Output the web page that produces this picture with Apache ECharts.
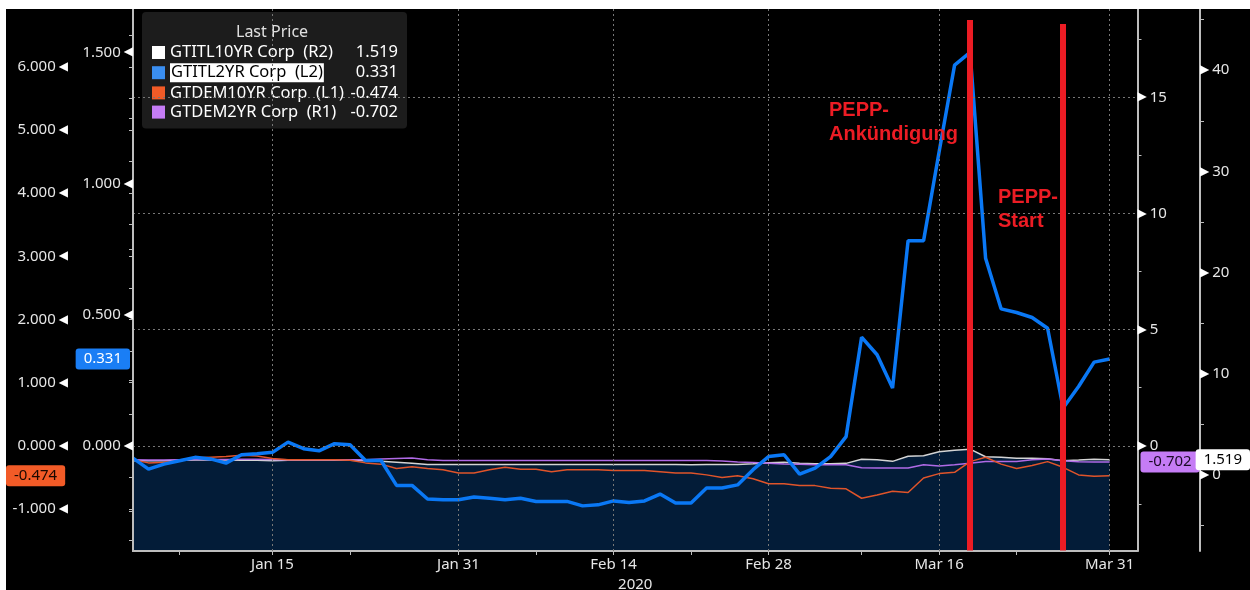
<!DOCTYPE html>
<html>
<head>
<meta charset="utf-8">
<script src="https://cdn.jsdelivr.net/npm/echarts@6.0.0/dist/echarts.min.js"></script>
<style>
html, body { margin: 0; padding: 0; background: #fff; }
#chart { position: absolute; left: 6px; top: 9px; width: 1244px; height: 581px; background: #000; }
</style>
</head>
<body>
<div id="chart"></div>
<script>
// business days Jan 2 - Mar 31 2020
var dates = ['Jan 2','Jan 3','Jan 6','Jan 7','Jan 8','Jan 9','Jan 10','Jan 13','Jan 14','Jan 15',
  'Jan 16','Jan 17','Jan 20','Jan 21','Jan 22','Jan 23','Jan 24','Jan 27','Jan 28','Jan 29',
  'Jan 30','Jan 31','Feb 3','Feb 4','Feb 5','Feb 6','Feb 7','Feb 10','Feb 11','Feb 12',
  'Feb 13','Feb 14','Feb 17','Feb 18','Feb 19','Feb 20','Feb 21','Feb 24','Feb 25','Feb 26',
  'Feb 27','Feb 28','Mar 2','Mar 3','Mar 4','Mar 5','Mar 6','Mar 9','Mar 10','Mar 11',
  'Mar 12','Mar 13','Mar 16','Mar 17','Mar 18','Mar 19','Mar 20','Mar 23','Mar 24','Mar 25',
  'Mar 26','Mar 27','Mar 30','Mar 31'];

// GTITL10YR (R2)
var itl10 = [1.42,1.40,1.42,1.45,1.48,1.50,1.48,1.45,1.45,1.42,
  1.45,1.45,1.45,1.45,1.45,1.42,1.35,1.25,1.15,1.05,
  1.05,1.03,1.03,1.04,1.04,1.05,1.04,1.03,1.03,1.04,
  1.04,1.04,1.03,1.03,1.04,1.03,1.02,1.04,1.05,1.04,
  1.10,1.20,1.25,1.15,1.12,1.12,1.15,1.55,1.50,1.35,
  1.85,1.90,2.30,2.45,2.55,1.80,1.75,1.65,1.65,1.60,
  1.42,1.48,1.55,1.519];
// GTITL2YR (L2)
var itl2 = [-0.047,-0.089,-0.070,-0.057,-0.044,-0.050,-0.066,-0.034,-0.030,-0.025,
  0.014,-0.011,-0.019,0.008,0.004,-0.056,-0.056,-0.151,-0.151,-0.203,
  -0.206,-0.206,-0.195,-0.200,-0.206,-0.200,-0.212,-0.212,-0.212,-0.229,
  -0.225,-0.210,-0.216,-0.210,-0.184,-0.218,-0.218,-0.161,-0.161,-0.149,
  -0.091,-0.041,-0.034,-0.108,-0.085,-0.041,0.035,0.414,0.347,0.220,
  0.782,0.782,1.120,1.451,1.500,0.715,0.522,0.508,0.489,0.448,
  0.144,0.226,0.319,0.331];
// GTDEM10YR (L1)
var dem10 = [-0.22,-0.27,-0.26,-0.24,-0.19,-0.18,-0.17,-0.15,-0.16,-0.20,
  -0.22,-0.22,-0.22,-0.22,-0.23,-0.27,-0.29,-0.36,-0.33,-0.36,
  -0.38,-0.43,-0.43,-0.38,-0.34,-0.37,-0.37,-0.41,-0.38,-0.38,
  -0.38,-0.39,-0.39,-0.39,-0.41,-0.43,-0.43,-0.46,-0.50,-0.475,
  -0.52,-0.60,-0.60,-0.63,-0.63,-0.67,-0.68,-0.83,-0.78,-0.72,
  -0.74,-0.51,-0.44,-0.42,-0.25,-0.18,-0.29,-0.36,-0.31,-0.25,
  -0.34,-0.46,-0.48,-0.474];
// GTDEM2YR (R1)
var dem2 = [-0.60,-0.61,-0.61,-0.60,-0.59,-0.59,-0.59,-0.58,-0.58,-0.59,
  -0.60,-0.60,-0.60,-0.60,-0.60,-0.60,-0.57,-0.55,-0.53,-0.60,
  -0.63,-0.63,-0.63,-0.63,-0.63,-0.63,-0.63,-0.63,-0.63,-0.63,
  -0.63,-0.63,-0.63,-0.63,-0.63,-0.63,-0.63,-0.63,-0.66,-0.70,
  -0.72,-0.75,-0.78,-0.80,-0.82,-0.82,-0.82,-0.95,-0.96,-0.96,
  -0.96,-0.82,-0.87,-0.82,-0.75,-0.68,-0.68,-0.68,-0.60,-0.57,
  -0.65,-0.69,-0.70,-0.702];

var labelDays = ['Jan 15','Jan 31','Feb 14','Feb 28','Mar 16','Mar 31'];
var midDays = ['Jan 7','Jan 22','Feb 7','Feb 21','Mar 9','Mar 23'];
var eventDays = ['Mar 18','Mar 26'];
var gridLevels = [0, 5, 10, 15];   // R1 values for dotted grid

var l1Labels = [-1,0,1,2,3,4,5,6];
var l1Ticks = [-1.5,-1,-0.5,0,0.5,1,1.5,2,2.5,3,3.5,4,4.5,5,5.5,6,6.5];
var l2Labels = [0,0.5,1,1.5];
var l2Ticks = [-0.25,0,0.25,0.5,0.75,1,1.25,1.5];
var r1Labels = [0,5,10,15];
var r1Ticks = [-2.5,0,2.5,5,7.5,10,12.5,15,17.5];
var r2Labels = [0,10,20,30,40];
var r2Ticks = [-5,0,5,10,15,20,25,30,35,40,45];

var FONT = 'Noto Sans';
var AX = '#bdbdbd', TXT = '#e6e6e6';
var last = function(a){ return a[a.length - 1]; };
var idx = function(d){ return dates.indexOf(d); };
var pairs = function(a){ return a.map(function (v, i) { return [i, v]; }); };
var labelIdx = labelDays.map(idx);
var tickIdx = labelIdx.concat(midDays.map(idx));

var meta = {
  'GTITL10YR Corp': { tag: '(R2)', data: itl10 },
  'GTITL2YR Corp':  { tag: '(L2)', data: itl2, hl: true },
  'GTDEM10YR Corp': { tag: '(L1)', data: dem10 },
  'GTDEM2YR Corp':  { tag: '(R1)', data: dem2 }
};
var ctx = document.createElement('canvas').getContext('2d');
ctx.font = '16.5px "' + FONT + '"';
var hlW = ctx.measureText('GTITL2YR Corp  (L2)').width + 2;

function yAxis(pos, offset, min, max, labels, ticks, fmt, tag) {
  var left = pos === 'left';
  return {
    type: 'value', position: pos, offset: offset, min: min, max: max, z: 5,
    axisLine: { show: true, lineStyle: { color: AX, width: 2 } },
    axisTick: { show: true, customValues: ticks, length: 4, lineStyle: { color: AX } },
    splitLine: { show: false },
    axisLabel: {
      customValues: labels, margin: 0,
      formatter: function (v) {
        return left ? '{v|' + fmt(v) + '}{t|◀}' : '{t|▶}{v|' + fmt(v) + '}';
      },
      rich: {
        v: { color: TXT, fontSize: 15, fontFamily: FONT, padding: left ? [0, 3, 0, 0] : [0, 0, 0, 3] },
        t: { color: '#fff', fontSize: 12, fontFamily: 'DejaVu Sans' }
      }
    },
    axisPointer: {
      show: true, type: 'none', status: 'show', value: tag.value, snap: false, triggerTooltip: false,
      label: {
        show: true, margin: 3, padding: [3, 8, 3, 8], fontSize: 15, fontFamily: FONT,
        backgroundColor: tag.bg, color: tag.fg,
        formatter: function () { return tag.value.toFixed(3); }
      }
    }
  };
}

var chart = echarts.init(document.getElementById('chart'));
var option = {
  animation: false,
  backgroundColor: '#000',
  title: {
    text: 'Last Price', left: 230, top: 13, padding: 0,
    textStyle: { color: '#e0e0e0', fontSize: 16, fontWeight: 'normal', fontFamily: FONT, lineHeight: 20 }
  },
  legend: {
    orient: 'vertical', left: 136, top: 3, selectedMode: false,
    backgroundColor: '#1c1c1c', borderRadius: 4, padding: [32, 9, 8, 10],
    itemWidth: 13, itemHeight: 13, itemGap: 2.2, icon: 'rect',
    data: ['GTITL10YR Corp', 'GTITL2YR Corp', 'GTDEM10YR Corp', 'GTDEM2YR Corp'],
    formatter: function (name) {
      var m = meta[name];
      var txt = name + '  ' + m.tag;
      var val = last(m.data).toFixed(3);
      if (m.hl) return '{hl|' + txt + '}{pad|}{v|' + val + '}';
      return '{n|' + txt + '}{v|' + val + '}';
    },
    textStyle: {
      color: '#fff', fontSize: 16.5, fontFamily: FONT,
      rich: {
        n: { width: 170, color: '#fff', fontSize: 16.5, fontFamily: FONT },
        hl: { color: '#000', backgroundColor: '#fff', padding: [1, 1, 1, 1], fontSize: 16.5, fontFamily: FONT },
        pad: { width: 170 - hlW },
        v: { width: 58, align: 'right', color: '#fff', fontSize: 16.5, fontFamily: FONT }
      }
    }
  },
  grid: { left: 127, right: 112.5, top: 0, bottom: 39, containLabel: false, outerBoundsMode: 'none' },
  xAxis: {
    type: 'value', min: 0, max: 64.8, z: 2,
    name: '2020', nameLocation: 'middle', nameGap: 22,
    nameTextStyle: { color: TXT, fontSize: 15, fontFamily: FONT },
    axisLine: { onZero: false, lineStyle: { color: AX, width: 2 } },
    axisTick: { show: true, customValues: tickIdx, length: 4, lineStyle: { color: AX } },
    axisLabel: {
      customValues: labelIdx, color: TXT, fontSize: 15, fontFamily: FONT, margin: 6,
      formatter: function (v) { return dates[v]; }
    },
    splitLine: { show: false }
  },
  yAxis: [
    yAxis('left', 65, -1.665, 6.915, l1Labels, l1Ticks, function (v) { return v.toFixed(3); },
      { value: last(dem10), bg: '#f25b27', fg: '#1a0800' }),
    yAxis('left', 0, -0.401, 1.665, l2Labels, l2Ticks, function (v) { return v.toFixed(3); },
      { value: last(itl2), bg: '#1a7ef5', fg: '#fff' }),
    yAxis('right', 0, -4.53, 18.8, r1Labels, r1Ticks, function (v) { return String(v); },
      { value: last(dem2), bg: '#c57cf5', fg: '#1a0a26' }),
    yAxis('right', 62.5, -7.51, 46.05, r2Labels, r2Ticks, function (v) { return String(v); },
      { value: last(itl10), bg: '#ffffff', fg: '#000' })
  ],
  graphic: [
    { type: 'text', left: 823, top: 89, z: 10,
      style: { text: 'PEPP-\nAnkündigung', fill: '#ec1c24', font: 'bold 20px "Liberation Sans"', lineHeight: 24 } },
    { type: 'text', left: 992, top: 176, z: 10,
      style: { text: 'PEPP-\nStart', fill: '#ec1c24', font: 'bold 20px "Liberation Sans"', lineHeight: 24 } }
  ],
  series: [
    {
      name: 'GTITL10YR Corp', type: 'line', yAxisIndex: 3, data: pairs(itl10), symbol: 'none', z: 1,
      color: '#ffffff', lineStyle: { width: 1.5, color: '#d4d4d4' },
      areaStyle: { color: '#031c38', opacity: 1, origin: 'start' }
    },
    {
      name: 'GTDEM2YR Corp', type: 'line', yAxisIndex: 2, data: pairs(dem2), symbol: 'none', z: 3,
      color: '#c57cf5', lineStyle: { width: 1.5, color: '#b06ae6' },
      markLine: {
        silent: true, symbol: 'none', label: { show: false },
        lineStyle: { color: '#777', width: 1, type: [2, 3] },
        data: gridLevels.map(function (v) { return { yAxis: v }; })
          .concat(labelIdx.map(function (i) { return { xAxis: i }; }))
      }
    },
    {
      name: 'GTDEM10YR Corp', type: 'line', yAxisIndex: 0, data: pairs(dem10), symbol: 'none', z: 3,
      color: '#f25b27', lineStyle: { width: 1.5, color: '#e0542a' }
    },
    {
      name: 'GTITL2YR Corp', type: 'line', yAxisIndex: 1, data: pairs(itl2), symbol: 'none', z: 4,
      color: '#3a8ef0', lineStyle: { width: 3.5, color: '#0a78f5' },
      markLine: {
        silent: true, symbol: 'none', label: { show: false },
        lineStyle: { color: '#ec1c24', width: 6, type: 'solid' },
        data: eventDays.map(function (d, k) {
          return [{ coord: [idx(d), k ? 1.608 : 1.623] }, { coord: [idx(d), -0.399] }];
        })
      }
    }
  ]
};
chart.setOption(option);
</script>
</body>
</html>
